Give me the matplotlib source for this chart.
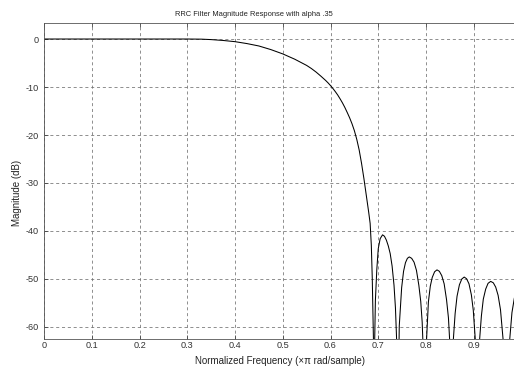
import matplotlib
matplotlib.use('Agg')
import matplotlib.pyplot as plt

plt.rcParams['font.family'] = ['Liberation Sans', 'DejaVu Sans']
plt.rcParams['axes.unicode_minus'] = False
plt.rcParams['lines.scale_dashes'] = False

# frequency (x pi rad/sample) and magnitude (dB)
freq = [0.0, 0.30, 0.33, 0.35, 0.375, 0.40, 0.425, 0.45, 0.475, 0.50,
        0.525, 0.55, 0.56, 0.57, 0.58, 0.59, 0.595, 0.60, 0.605, 0.61,
        0.615, 0.62, 0.625, 0.63, 0.635, 0.64, 0.645, 0.65, 0.655, 0.66,
        0.665, 0.67, 0.675, 0.68, 0.683, 0.6855, 0.6875, 0.690, 0.6915,
        # sidelobe 1
        0.6925, 0.694, 0.697, 0.700, 0.704, 0.709, 0.713, 0.717, 0.721, 0.725,
        0.729, 0.733, 0.736, 0.7386, 0.740,
        # sidelobe 2
        0.744, 0.749, 0.753, 0.757, 0.761, 0.765, 0.770, 0.775, 0.780, 0.785,
        0.789, 0.792, 0.7935, 0.7965,
        # sidelobe 3
        0.801, 0.805, 0.809, 0.813, 0.818, 0.823, 0.828, 0.833, 0.838, 0.843,
        0.847, 0.8497, 0.8535,
        # sidelobe 4
        0.857, 0.861, 0.865, 0.870, 0.875, 0.880, 0.885, 0.890, 0.895, 0.899,
        0.9035, 0.9075,
        # sidelobe 5
        0.912, 0.916, 0.920, 0.925, 0.930, 0.9355, 0.941, 0.946, 0.951, 0.956,
        0.9618, 0.967,
        # sidelobe 6
        0.975, 0.980, 0.985, 0.990, 0.996, 1.0]
mag_db = [0.0, 0.0, -0.03, -0.12, -0.3, -0.55, -0.95, -1.45, -2.2, -3.1,
          -4.2, -5.5, -6.15, -6.9, -7.75, -8.65, -9.15, -9.7, -10.3, -10.95,
          -11.65, -12.45, -13.3, -14.25, -15.3, -16.4, -17.65, -19.1, -20.9, -23.1,
          -25.9, -29.1, -32.6, -36.1, -38.4, -43.0, -50.0, -63.0, -90.0,
          -63.0, -54.5, -48.0, -43.7, -41.6, -40.8, -41.1, -41.9, -43.1, -44.7,
          -47.3, -51.3, -56.0, -63.0, -90.0,
          -59.8, -51.8, -48.4, -46.6, -45.7, -45.4, -45.7, -46.5, -48.2, -51.3,
          -54.7, -59.0, -63.0, -90.0,
          -63.0, -54.8, -51.5, -49.7, -48.5, -48.1, -48.4, -49.3, -51.0, -54.3,
          -58.1, -63.0, -90.0,
          -63.0, -57.2, -53.6, -51.2, -50.0, -49.6, -49.95, -51.0, -53.3, -56.5,
          -63.0, -90.0,
          -63.0, -57.7, -54.2, -52.1, -50.9, -50.5, -50.8, -51.7, -53.4, -56.4,
          -63.0, -90.0,
          -63.0, -57.0, -54.0, -52.3, -51.6, -51.7]

xticks = [0, 0.1, 0.2, 0.3, 0.4, 0.5, 0.6, 0.7, 0.8, 0.9]
xticklabels = ['0', '0.1', '0.2', '0.3', '0.4', '0.5', '0.6', '0.7', '0.8', '0.9']
yticks = [-60, -50, -40, -30, -20, -10, 0]
yticklabels = ['-60', '-50', '-40', '-30', '-20', '-10', '0']

fig = plt.figure(figsize=(5.14, 3.67), dpi=100)
ax = fig.add_axes([44 / 514, 28.5 / 367, 477.5 / 514, 315.8 / 367])

ax.plot(freq, mag_db, color='black', lw=0.75)

ax.set_xlim(0, 1)
ax.set_ylim(-62.4, 3.4)
ax.set_xticks(xticks)
ax.set_xticklabels(xticklabels)
ax.set_yticks(yticks)
ax.set_yticklabels(yticklabels)

ax.grid(True, color='#707070', linestyle=(0, (2.2, 2.0)), lw=0.55)
ax.tick_params(direction='in', length=3, width=0.6, labelsize=6.6,
               top=True, right=True, colors='#444444', labelcolor='#333333')
ax.tick_params(axis='x', pad=2)
ax.tick_params(axis='y', pad=3.5)
for s in ax.spines.values():
    s.set_linewidth(0.6)
    s.set_color('#555555')

fig.text(253.5 / 514, 1 - 14 / 367, 'RRC Filter Magnitude Response with alpha .35',
         ha='center', va='center', fontsize=5.4, color='#222222')
ax.set_xlabel('Normalized Frequency (\u00d7\u03c0 rad/sample)', fontsize=7, color='#222222')
ax.xaxis.set_label_coords(0.495, -0.0703)
ax.xaxis.label.set_va('center')
ax.set_ylabel('Magnitude (dB)', fontsize=7, color='#222222')
ax.yaxis.set_label_coords(-0.0572, 0.46)
ax.yaxis.label.set_va('center')

fig.savefig('out.png', dpi=100)
